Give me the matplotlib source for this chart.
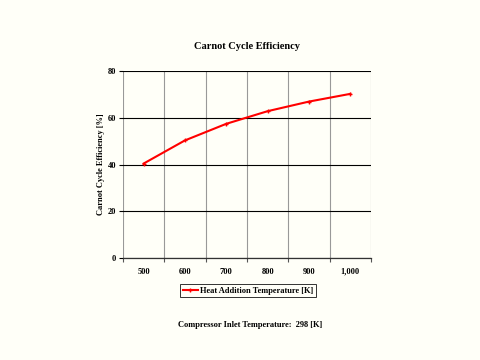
import numpy as np
import matplotlib.pyplot as plt

########### Data ###########

temps = [500, 600, 700, 800, 900, 1000]
temp_labels = ['500', '600', '700', '800', '900', '1,000']
efficiency = [40.4, 50.3, 57.4, 62.8, 66.9, 70.2]  # Carnot efficiency [%]
y_ticks = [0, 20, 40, 60, 80]

########### Figure ###########

plt.rcParams['font.family'] = ['Liberation Serif', 'DejaVu Serif']
plt.rcParams['font.weight'] = 'bold'

bg = '#fffff8'
fig = plt.figure(figsize=(4.8, 3.6), dpi=100, facecolor=bg)
ax = fig.add_axes([0.256, 0.283, 0.517, 0.52], facecolor=bg)

x = np.arange(len(temps))
line, = ax.plot(x, efficiency, color='#ff0000', lw=1.5, marker='+', ms=3.5, mew=1.0,
                label='Heat Addition Temperature [K]', zorder=3)

ax.set_xlim(-0.5, len(temps) - 0.5)
ax.set_ylim(0, 80)

# category labels at centers, tick marks/grid at boundaries
ax.set_xticks(x)
ax.set_xticklabels(temp_labels)
ax.set_xticks(np.arange(len(temps) + 1) - 0.5, minor=True)
ax.tick_params(axis='x', which='major', length=0, pad=7, labelsize=6)
ax.tick_params(axis='x', which='minor', length=3, width=0.8, color='#555555')
ax.set_yticks(y_ticks)
ax.tick_params(axis='y', length=3, width=0.8, pad=2, labelsize=6)

ax.grid(True, axis='x', which='minor', color='#999999', lw=0.8)
ax.grid(True, axis='y', which='major', color='#000000', lw=0.8)
ax.set_axisbelow(True)

for s in ['top', 'right', 'left']:
    ax.spines[s].set_visible(False)
ax.spines['bottom'].set_color('#333333')
ax.spines['bottom'].set_linewidth(0.9)

ax.set_title('Carnot Cycle Efficiency', fontsize=7.5, fontweight='bold', pad=16)
ax.set_ylabel('Carnot Cycle Efficiency [%]', fontsize=6, fontweight='bold', labelpad=2)

leg = fig.legend(handles=[line], loc='center', bbox_to_anchor=(0.517, 0.193),
                 fontsize=6, frameon=True, fancybox=False, handlelength=1.8,
                 handletextpad=0.3, borderpad=0.35, facecolor=bg)
leg.get_frame().set_edgecolor('#000000')
leg.get_frame().set_linewidth(0.7)

fig.text(0.521, 0.097, 'Compressor Inlet Temperature:  298 [K]', ha='center', va='center',
         fontsize=6, fontweight='bold')

plt.savefig('out.png', dpi=100, facecolor=bg)
